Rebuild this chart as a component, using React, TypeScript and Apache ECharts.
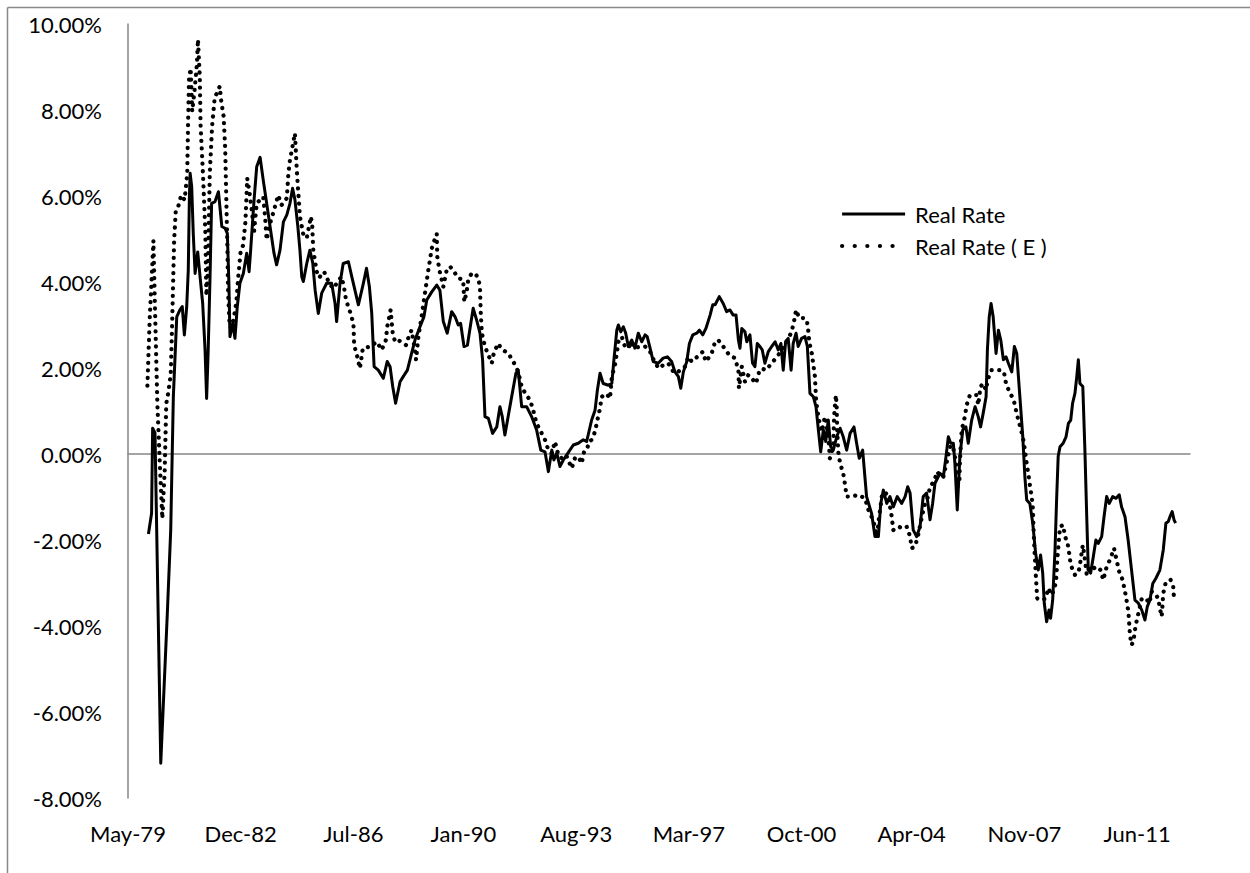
import React, { useEffect, useRef } from "react";
import * as echarts from "echarts";

// x values are months elapsed since May 1979; y values are rates in percent
const xTickMonths = [0, 43, 86, 128, 171, 214, 257, 299, 342, 385];
const xTickLabels = ["May-79", "Dec-82", "Jul-86", "Jan-90", "Aug-93", "Mar-97", "Oct-00", "Apr-04", "Nov-07", "Jun-11"];
const yMin = -8;
const yMax = 10;
const yStep = 2;
const xMaxMonths = 405.2;
const seriesNames = ["Real Rate", "Real Rate ( E )"];

const realRate: [number, number][] = [
  [7.8, -1.86], [9.0, -1.38], [9.4, 0.6], [10.3, 0.49], [12.5, -7.19], [15.0, -3.71], [16.3, -1.77], [17.3, 1.33], [18.6, 3.19], [19.8, 3.35],
  [20.7, 3.43], [21.5, 2.77], [22.4, 3.43], [23.0, 4.28], [23.4, 5.91], [23.7, 6.53], [24.3, 6.22], [24.9, 5.13], [25.6, 4.2], [26.6, 4.7],
  [27.5, 4.12], [28.5, 3.5], [29.4, 2.42], [30.0, 1.29], [30.6, 2.42], [31.3, 4.12], [31.9, 5.83], [33.2, 5.87], [34.5, 6.1], [35.8, 5.29],
  [37.0, 5.25], [37.9, 5.13], [38.5, 3.97], [38.9, 2.73], [40.0, 3.04], [40.8, 2.69], [41.7, 3.43], [42.7, 3.97], [44.0, 4.2], [45.3, 4.67],
  [46.2, 4.24], [46.8, 4.74], [48.1, 5.91], [49.1, 6.68], [50.4, 6.9], [51.6, 6.37], [52.9, 5.83], [54.2, 5.29], [55.7, 4.67], [56.7, 4.4],
  [58.0, 4.74], [59.3, 5.4], [60.6, 5.56], [61.8, 5.83], [62.8, 6.18], [63.7, 5.91], [64.8, 5.29], [65.6, 4.74], [66.3, 4.12], [66.9, 4.01],
  [68.2, 4.43], [69.4, 4.74], [70.5, 4.44], [71.4, 3.81], [72.6, 3.27], [73.9, 3.74], [75.8, 3.97], [77.7, 3.97], [79.0, 3.5], [79.6, 3.08],
  [80.9, 3.97], [82.1, 4.43], [84.1, 4.47], [85.4, 4.12], [87.9, 3.47], [89.8, 3.97], [91.0, 4.32], [92.1, 3.89], [93.0, 3.27], [93.9, 2.03],
  [95.5, 1.95], [97.4, 1.76], [98.9, 2.15], [100.0, 2.03], [101.0, 1.57], [102.1, 1.18], [103.8, 1.68], [105.0, 1.8], [106.6, 1.95], [108.2, 2.34],
  [109.5, 2.65], [111.4, 2.96], [112.9, 3.19], [114.0, 3.58], [115.9, 3.77], [117.8, 3.93], [119.0, 3.81], [120.3, 3.08], [121.8, 2.81], [123.5, 3.31],
  [124.8, 3.19], [126.0, 3.0], [126.9, 3.04], [128.2, 2.5], [129.5, 2.53], [130.8, 3.04], [131.7, 3.39], [133.0, 3.12], [134.3, 2.81], [135.3, 2.19],
  [136.2, 0.87], [137.5, 0.83], [139.1, 0.48], [140.7, 0.63], [141.9, 1.1], [142.8, 0.87], [143.8, 0.44], [145.7, 1.1], [148.0, 1.88], [148.9, 1.95],
  [150.2, 1.1], [152.1, 1.1], [154.0, 0.87], [155.9, 0.56], [157.5, 0.09], [159.1, 0.05], [160.4, -0.41], [161.7, 0.09], [162.5, -0.14], [163.6, 0.02],
  [164.8, -0.29], [166.1, -0.14], [167.4, -0.02], [168.6, 0.09], [169.9, 0.21], [171.8, 0.25], [173.7, 0.33], [175.0, 0.29], [176.9, 0.79], [178.2, 1.02],
  [179.1, 1.49], [180.1, 1.88], [181.3, 1.64], [183.3, 1.6], [184.6, 1.64], [185.4, 2.19], [186.5, 2.88], [187.1, 3.0], [188.0, 2.84], [189.0, 2.96],
  [189.9, 2.81], [190.9, 2.5], [192.2, 2.65], [193.4, 2.46], [194.7, 2.81], [196.0, 2.61], [197.3, 2.77], [198.1, 2.73], [199.2, 2.46], [200.4, 2.15],
  [202.3, 2.11], [204.2, 2.23], [205.8, 2.26], [207.4, 2.15], [208.7, 1.91], [210.0, 1.8], [210.9, 1.53], [211.9, 1.91], [213.2, 2.15], [214.2, 2.57],
  [215.5, 2.77], [217.0, 2.81], [218.0, 2.88], [219.3, 2.77], [220.5, 2.92], [222.1, 3.23], [223.1, 3.47], [224.0, 3.47], [225.6, 3.66], [227.1, 3.5],
  [228.4, 3.31], [229.7, 3.35], [230.9, 3.23], [232.0, 3.23], [232.9, 2.65], [233.5, 2.46], [234.2, 2.92], [235.4, 2.84], [236.1, 2.61], [237.3, 2.77],
  [238.3, 2.11], [239.2, 2.03], [240.1, 2.57], [241.1, 2.5], [242.0, 2.42], [243.0, 2.11], [244.3, 2.38], [245.6, 2.5], [246.9, 2.61], [248.1, 2.42],
  [249.1, 2.57], [250.0, 1.95], [250.9, 2.61], [251.9, 2.69], [253.0, 1.95], [253.8, 2.57], [254.9, 2.81], [255.7, 2.5], [257.0, 2.69], [258.3, 2.73],
  [259.2, 2.5], [260.2, 1.41], [261.5, 1.33], [262.5, 1.1], [263.4, 0.56], [264.3, 0.05], [265.3, 0.56], [266.2, 0.29], [267.2, 0.79], [268.1, 0.17],
  [269.1, 0.09], [270.4, 0.4], [271.7, 0.6], [272.9, 0.4], [274.2, 0.09], [275.5, 0.48], [277.0, 0.63], [278.0, 0.25], [279.0, -0.1], [280.3, 0.09],
  [281.8, -0.99], [283.7, -1.38], [285.0, -1.92], [286.3, -1.92], [287.2, -1.15], [288.2, -0.84], [289.5, -1.15], [290.7, -0.99], [292.0, -1.23], [293.5, -0.99],
  [295.2, -1.15], [296.5, -0.99], [297.5, -0.76], [298.4, -0.91], [299.6, -1.77], [300.9, -1.92], [302.2, -1.69], [303.4, -0.99], [304.7, -0.91], [306.0, -1.53],
  [307.0, -1.15], [307.9, -0.68], [309.8, -0.45], [311.1, -0.53], [312.1, -0.06], [313.0, 0.4], [313.9, 0.25], [314.9, 0.25], [315.5, -0.22], [316.4, -1.3],
  [317.4, -0.06], [318.5, 0.56], [319.7, 0.63], [320.6, 0.25], [321.9, 0.79], [323.2, 1.1], [324.4, 0.87], [325.3, 0.63], [326.3, 0.95], [327.4, 1.33],
  [327.9, 2.42], [328.6, 3.19], [329.3, 3.5], [330.1, 3.19], [331.2, 2.34], [332.1, 2.88], [333.0, 2.65], [334.0, 2.19], [335.0, 2.26], [335.9, 2.11],
  [337.2, 1.91], [338.2, 2.5], [339.1, 2.34], [340.1, 1.49], [341.4, 0.4], [342.2, -0.53], [342.9, -1.07], [344.1, -1.15], [345.2, -1.61], [346.3, -2.31],
  [347.3, -2.7], [348.2, -2.35], [349.0, -2.77], [349.6, -3.47], [350.5, -3.9], [351.4, -3.63], [352.0, -3.82], [352.8, -3.4], [353.7, -2.23], [354.3, -1.07],
  [354.9, -0.06], [355.6, 0.17], [356.8, 0.25], [357.9, 0.4], [358.8, 0.71], [359.7, 0.79], [360.4, 1.18], [361.3, 1.41], [362.0, 1.8], [362.6, 2.19],
  [363.2, 1.64], [364.3, 1.57], [365.1, 0.09], [365.8, -1.46], [366.4, -2.7], [367.3, -2.77], [368.3, -2.39], [369.3, -2.0], [370.2, -2.08], [371.5, -1.92],
  [372.4, -1.46], [373.4, -0.99], [374.4, -1.15], [375.7, -0.99], [377.0, -1.03], [378.2, -0.95], [379.1, -1.23], [380.4, -1.46], [381.6, -2.0], [382.9, -2.7],
  [384.2, -3.4], [385.5, -3.47], [386.8, -3.63], [388.0, -3.86], [388.9, -3.55], [389.9, -3.4], [391.0, -3.01], [392.2, -2.89], [393.7, -2.7], [395.0, -2.23],
  [396.0, -1.61], [396.9, -1.57], [397.8, -1.42], [398.4, -1.34], [399.1, -1.53], [399.7, -1.61],
];

const realRateE: [number, number][] = [
  [7.4, 1.59], [8.3, 3.17], [9.2, 4.29], [9.7, 4.96], [10.2, 3.63], [11.2, 1.17], [12.1, -0.17], [13.1, -1.5], [14.0, -0.39], [14.6, 1.17],
  [15.3, 1.4], [16.3, 1.84], [16.9, 3.17], [17.6, 4.96], [18.2, 5.63], [19.1, 5.74], [20.3, 6.02], [21.6, 5.91], [22.6, 6.52], [22.9, 7.63],
  [23.3, 8.75], [23.9, 8.97], [24.5, 7.97], [25.5, 8.52], [26.3, 9.08], [26.7, 9.64], [27.4, 8.75], [27.7, 7.63], [28.6, 6.52], [29.5, 5.18],
  [29.9, 3.68], [30.5, 4.29], [31.2, 6.52], [32.1, 7.63], [33.1, 8.3], [34.1, 8.41], [35.0, 8.55], [35.6, 8.19], [36.5, 7.85], [37.1, 7.07],
  [37.5, 5.96], [37.9, 4.85], [38.2, 3.73], [38.8, 2.95], [39.7, 2.95], [40.4, 3.17], [41.3, 3.51], [42.0, 4.07], [43.0, 4.73], [43.9, 4.85],
  [44.8, 5.4], [45.5, 6.41], [46.4, 6.07], [47.3, 5.63], [48.1, 5.18], [49.1, 5.83], [51.6, 5.98], [52.3, 5.52], [52.9, 4.98], [54.2, 5.36],
  [55.7, 5.67], [57.3, 6.02], [58.6, 5.79], [60.6, 5.95], [61.2, 6.53], [61.8, 6.84], [62.5, 7.07], [63.7, 7.46], [64.4, 6.6], [65.0, 6.06],
  [65.6, 5.52], [66.9, 5.1], [68.2, 5.02], [69.8, 5.52], [70.3, 5.29], [70.7, 4.74], [72.0, 4.24], [72.9, 4.1], [74.8, 4.24], [77.1, 3.93],
  [78.6, 3.85], [79.9, 4.01], [81.5, 4.12], [82.5, 3.85], [83.2, 3.58], [84.7, 3.31], [86.0, 3.04], [86.3, 2.53], [87.5, 2.26], [88.5, 1.99],
  [89.6, 2.46], [92.6, 2.5], [94.9, 2.61], [96.8, 2.42], [98.4, 2.65], [98.9, 2.96], [99.7, 3.19], [100.2, 3.35], [101.0, 2.81], [101.9, 2.61],
  [103.1, 2.65], [106.1, 2.53], [107.3, 2.77], [108.2, 2.88], [109.5, 2.42], [109.9, 2.19], [110.8, 2.73], [111.4, 2.96], [112.1, 3.23], [113.3, 3.74],
  [114.6, 4.28], [115.2, 4.51], [115.9, 4.78], [116.5, 4.9], [117.8, 5.12], [118.0, 4.59], [118.8, 4.28], [119.7, 4.05], [120.3, 3.89], [121.6, 4.28],
  [122.9, 4.36], [124.4, 4.24], [126.0, 4.09], [127.9, 4.05], [128.3, 3.54], [129.2, 3.77], [129.8, 4.05], [131.1, 4.2], [132.4, 4.2], [133.7, 4.09],
  [134.3, 3.85], [134.6, 3.27], [135.0, 2.81], [136.2, 2.5], [137.5, 2.3], [138.8, 2.11], [139.4, 2.3], [141.1, 2.57], [143.0, 2.42], [145.1, 2.34],
  [147.0, 2.15], [148.9, 1.91], [150.2, 1.57], [151.9, 1.37], [153.4, 1.26], [154.6, 1.02], [155.9, 0.71], [157.5, 0.52], [159.1, 0.33], [160.4, 0.09],
  [161.7, 0.02], [162.9, 0.29], [164.2, -0.02], [166.1, -0.14], [167.4, -0.06], [169.3, -0.33], [170.5, -0.1], [171.8, -0.06], [173.1, -0.22], [174.0, 0.05],
  [175.0, 0.09], [176.0, 0.29], [176.9, 0.33], [178.2, 0.52], [179.1, 0.79], [180.1, 1.06], [180.7, 1.33], [182.6, 1.4], [183.9, 1.29], [184.6, 1.8],
  [185.8, 2.07], [186.5, 2.34], [187.1, 2.61], [188.4, 2.73], [189.6, 2.5], [190.9, 2.46], [192.2, 2.61], [193.4, 2.46], [195.3, 2.5], [197.3, 2.5],
  [199.2, 2.38], [201.1, 2.11], [202.7, 1.99], [204.2, 2.07], [206.1, 2.11], [208.1, 1.91], [209.4, 1.88], [210.6, 1.95], [212.5, 2.03], [213.8, 2.26],
  [215.1, 2.15], [217.2, 2.26], [219.3, 2.38], [220.5, 2.15], [222.7, 2.34], [224.0, 2.61], [225.2, 2.65], [227.1, 2.5], [229.4, 2.3], [231.6, 2.23],
  [232.9, 1.95], [233.1, 1.53], [234.2, 2.03], [235.4, 1.68], [236.7, 1.84], [238.0, 1.76], [239.6, 1.64], [240.8, 1.91], [241.8, 1.99], [243.4, 1.95],
  [245.6, 2.11], [248.1, 2.3], [249.4, 2.42], [251.3, 2.61], [253.2, 2.84], [254.1, 3.08], [254.9, 3.35], [256.1, 3.16], [257.7, 3.16], [259.0, 3.12],
  [259.6, 2.84], [259.9, 2.61], [260.9, 2.34], [261.5, 2.07], [262.1, 1.8], [262.5, 1.29], [263.0, 1.02], [263.8, 0.75], [264.7, 0.52], [265.9, 0.87],
  [267.2, 0.4], [267.8, -0.1], [269.1, 0.17], [269.4, 0.87], [269.7, 1.1], [270.1, 1.37], [270.4, 1.1], [270.6, 0.52], [271.0, 0.05], [271.7, -0.22],
  [272.9, -0.45], [273.6, -0.72], [274.2, -0.99], [276.1, -0.99], [278.6, -0.95], [281.2, -1.03], [282.5, -1.3], [283.7, -1.46], [285.0, -1.69], [285.7, -1.92],
  [286.6, -1.46], [287.6, -0.99], [288.8, -0.88], [290.1, -0.99], [291.4, -1.46], [292.0, -1.77], [293.9, -1.69], [295.8, -1.73], [297.1, -1.69], [298.4, -1.92],
  [299.0, -2.19], [300.3, -2.15], [301.5, -1.88], [302.4, -1.61], [303.2, -1.38], [304.1, -1.15], [305.3, -0.99], [306.0, -0.76], [307.5, -0.64], [308.8, -0.41],
  [309.8, -0.53], [311.1, -0.53], [312.1, -0.26], [313.0, -0.02], [313.9, 0.21], [314.9, 0.13], [315.5, -0.06], [316.2, -0.37], [316.4, -0.76], [317.2, -0.68],
  [317.4, -0.22], [317.7, 0.17], [318.1, 0.56], [319.3, 0.87], [320.0, 1.14], [321.2, 1.37], [323.8, 1.37], [324.4, 1.14], [325.3, 1.57], [326.3, 1.64],
  [327.3, 1.49], [328.2, 1.76], [329.5, 1.95], [332.7, 1.95], [334.2, 1.91], [335.0, 1.64], [336.5, 1.41], [337.8, 1.29], [338.8, 1.02], [339.7, 0.79],
  [340.6, 0.6], [341.6, 0.33], [342.2, 0.09], [342.9, -0.22], [343.5, -0.45], [344.1, -0.72], [344.8, -0.99], [345.2, -1.23], [345.7, -2.04], [346.4, -2.85],
  [346.9, -3.36], [348.6, -3.4], [350.2, -3.36], [351.1, -3.12], [352.4, -3.28], [353.3, -3.16], [354.1, -2.97], [354.6, -2.43], [355.3, -1.92], [355.6, -1.69],
  [356.8, -1.65], [357.5, -1.92], [358.4, -2.04], [359.1, -2.31], [359.7, -2.58], [361.3, -2.81], [362.6, -2.77], [363.2, -2.58], [364.3, -2.12], [364.9, -2.35],
  [365.8, -2.81], [366.8, -2.62], [368.3, -2.66], [369.8, -2.62], [371.1, -2.7], [372.1, -2.93], [373.4, -2.62], [374.9, -2.43], [376.2, -2.19], [377.2, -2.47],
  [378.2, -2.74], [379.5, -2.93], [380.4, -3.2], [381.0, -3.4], [381.7, -3.67], [382.3, -4.21], [382.9, -4.44], [383.6, -4.36], [384.2, -4.09], [384.9, -3.86],
  [385.8, -3.63], [386.8, -3.36], [388.4, -3.36], [389.7, -3.47], [390.6, -3.2], [391.8, -3.24], [393.1, -3.36], [393.7, -3.59], [394.4, -3.78], [395.0, -3.24],
  [396.0, -2.97], [397.8, -2.93], [398.8, -3.09], [399.1, -3.36],
];

const FONT = "Lato, 'Open Sans', sans-serif";
const AXIS_GREY = "#868686";

export default function App() {
  const ref = useRef<HTMLDivElement>(null);

  useEffect(() => {
    if (!ref.current) return;
    const chart = echarts.init(ref.current, null, { renderer: "svg" });
    chart.setOption({
      animation: false,
      color: ["#000000", "#000000"],
      textStyle: { fontFamily: FONT },
      grid: { left: 128, top: 24, right: 60, bottom: 75, containLabel: false },
      graphic: [
        { type: "line", silent: true, shape: { x1: 7.5, y1: 7.5, x2: 1250, y2: 7.5 }, style: { stroke: "#898989", lineWidth: 1.5 } },
        { type: "line", silent: true, shape: { x1: 7.5, y1: 7.5, x2: 7.5, y2: 873 }, style: { stroke: "#898989", lineWidth: 1.5 } },
      ],
      legend: {
        orient: "vertical",
        left: 835,
        top: 198,
        itemWidth: 63,
        itemHeight: 14,
        itemGap: 10,
        selectedMode: false,
        itemStyle: { opacity: 0, borderWidth: 0 },
        lineStyle: { type: [0.1, 12.5], cap: "round", width: 4.2, color: "#000", inherit: false },
        textStyle: { fontSize: 22, color: "#000", fontFamily: FONT, padding: [0, 0, 0, 5] },
        data: [
          { name: seriesNames[0], lineStyle: { type: "solid", width: 3, color: "#000", cap: "butt" } },
          { name: seriesNames[1] },
        ],
      },
      xAxis: [
        {
          type: "value",
          min: 0,
          max: xMaxMonths,
          axisLine: { show: true, onZero: true, lineStyle: { color: AXIS_GREY, width: 1.5 } },
          axisTick: { show: false },
          axisLabel: { show: false },
          splitLine: { show: false },
        },
        {
          type: "value",
          min: 0,
          max: xMaxMonths,
          position: "bottom",
          axisLine: { show: false, onZero: false },
          axisTick: { show: false },
          splitLine: { show: false },
          axisLabel: {
            customValues: xTickMonths,
            formatter: (v: number) => {
              const i = xTickMonths.indexOf(Math.round(v));
              return i >= 0 ? xTickLabels[i] : "";
            },
            fontSize: 22,
            color: "#000",
            fontFamily: FONT,
            margin: 24,
          },
        },
      ],
      yAxis: {
        type: "value",
        min: yMin,
        max: yMax,
        interval: yStep,
        axisLine: { show: true, lineStyle: { color: AXIS_GREY, width: 1.5 } },
        axisTick: { show: false },
        splitLine: { show: false },
        axisLabel: {
          formatter: (v: number) => v.toFixed(2) + "%",
          fontSize: 22,
          color: "#000",
          fontFamily: FONT,
          margin: 26,
        },
      },
      series: [
        {
          name: seriesNames[0],
          type: "line",
          xAxisIndex: 0,
          yAxisIndex: 0,
          data: realRate,
          symbol: "none",
          showSymbol: false,
          lineStyle: { color: "#000", width: 3, join: "round" },
          z: 3,
        },
        {
          name: seriesNames[1],
          type: "line",
          xAxisIndex: 0,
          yAxisIndex: 0,
          data: realRateE,
          symbol: "none",
          showSymbol: false,
          lineStyle: { type: [0.1, 7.5], cap: "round", width: 4.2, color: "#000" },
          z: 2,
        },
      ],
    });
    return () => chart.dispose();
  }, []);

  return (
    <div
      ref={ref}
      style={{ position: "absolute", left: 0, top: 0, width: 1250, height: 873 }}
    />
  );
}
